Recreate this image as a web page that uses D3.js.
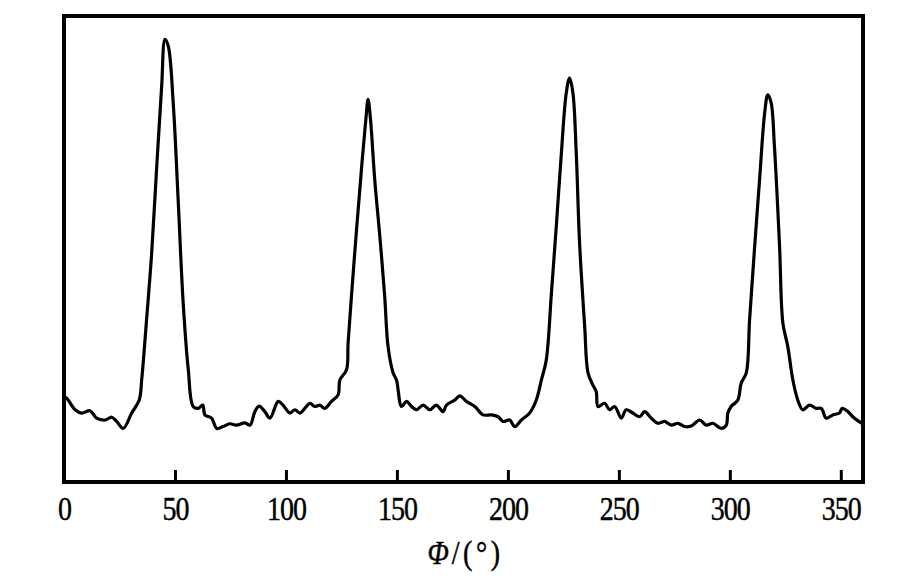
<!DOCTYPE html>
<html>
<head>
<meta charset="utf-8">
<script src="https://cdn.jsdelivr.net/npm/d3@7"></script>
<style>
  html, body { margin: 0; padding: 0; background: #fff; }
  svg { display: block; }
</style>
</head>
<body>
<svg id="chart" width="903" height="579"></svg>
<script>
// azimuth angle Φ (degrees)
const phi = [0, 1.2, 5.0, 8.0, 11.7, 14.7, 18.5, 21.5, 23.7, 26.7, 30.5, 33.9, 35.0, 37.2, 39.5, 41.7, 44.0, 45.5, 47.0, 49.2, 51.5, 53.7, 56.0, 58.2, 60.5, 62.5, 63.5, 66.5, 68.8, 71.7, 74.7, 77.8, 81.5, 83.8, 86.0, 87.9, 90.5, 92.8, 96.5, 98.7, 101.8, 104.0, 106.3, 108.5, 110.8, 113.0, 115.3, 117.5, 120.5, 123.5, 124.3, 127.3, 128.0, 129.5, 131.8, 134.0, 136.0, 137.0, 138.1, 140.0, 142.3, 144.5, 146.0, 148.3, 149.8, 152.1, 154.3, 156.6, 158.8, 161.8, 164.8, 167.8, 170.8, 172.3, 176.1, 178.3, 181.3, 185.1, 188.8, 192.6, 195.6, 197.8, 200.8, 203.1, 206.1, 209.8, 212.8, 215.1, 217.3, 219.6, 221.8, 224.1, 226.3, 227.8, 229.3, 230.8, 232.3, 234.6, 236.1, 238.3, 239.8, 240.6, 243.6, 245.8, 248.1, 251.1, 253.3, 256.3, 259.4, 261.6, 264.6, 267.6, 270.6, 273.6, 276.6, 279.6, 282.6, 286.4, 289.4, 292.4, 296.1, 298.4, 299.1, 300.6, 303.6, 305.1, 307.4, 308.9, 311.2, 313.4, 315.7, 317.1, 318.6, 320.1, 322.4, 323.9, 326.1, 328.4, 330.6, 332.9, 335.9, 338.9, 341.2, 343.4, 346.4, 349.4, 350.6, 353.2, 355.4, 358.1, 359.5];
// intensity (arbitrary units)
const intensity = [18.3, 18.0, 15.5, 14.8, 15.3, 13.7, 13.3, 13.9, 13.0, 11.5, 14.8, 17.6, 21.9, 34.8, 49.1, 67.0, 84.9, 95.0, 93.5, 81.4, 59.9, 38.4, 24.1, 16.2, 15.8, 16.5, 14.4, 13.7, 11.5, 11.9, 12.5, 12.2, 12.7, 12.2, 15.1, 16.3, 15.1, 13.7, 17.3, 16.5, 14.8, 15.5, 14.8, 15.8, 16.9, 16.2, 16.5, 15.8, 17.3, 18.7, 21.9, 24.1, 29.8, 39.8, 54.1, 67.0, 77.8, 82.1, 77.8, 64.9, 52.7, 39.8, 29.1, 23.4, 21.9, 16.2, 17.3, 16.2, 15.5, 16.5, 15.5, 16.5, 15.1, 16.5, 17.6, 18.5, 17.3, 16.2, 14.4, 14.4, 14.0, 13.0, 13.3, 11.9, 13.3, 14.8, 17.6, 21.9, 26.2, 40.5, 54.8, 70.6, 83.5, 86.7, 83.5, 70.6, 51.3, 33.4, 23.4, 20.8, 19.4, 16.2, 16.9, 15.5, 16.2, 13.7, 15.5, 14.8, 14.0, 15.1, 13.7, 12.6, 13.0, 12.2, 12.6, 11.9, 12.0, 13.3, 12.2, 12.6, 11.5, 12.2, 14.8, 16.2, 17.6, 21.2, 23.4, 34.8, 50.6, 64.9, 79.2, 83.1, 81.4, 72.0, 50.6, 34.1, 29.1, 21.9, 17.6, 15.5, 16.5, 15.8, 15.8, 13.7, 14.4, 14.8, 15.8, 15.1, 14.0, 13.0, 12.6];
const xTicks = [0, 50, 100, 150, 200, 250, 300, 350];
const xTitleSymbol = "Φ";
const xTitleRest = "/(°)";

const svg = d3.select("#chart");
const mLeft = 64, mRight = 863, mTop = 16, mBottom = 482;

const x = d3.scaleLinear().domain([0, 360]).range([mLeft, mRight]);
const y = d3.scaleLinear().domain([0, 100]).range([mBottom, mTop]);

const data = phi.map((p, i) => ({ p, v: intensity[i] }));

// curve
svg.append("path")
  .datum(data)
  .attr("fill", "none")
  .attr("stroke", "#000")
  .attr("stroke-width", 3.2)
  .attr("stroke-linejoin", "round")
  .attr("stroke-linecap", "round")
  .attr("d", d3.line().x(d => x(d.p)).y(d => y(d.v)).curve(d3.curveCatmullRom.alpha(0.5)));

// x axis (ticks inward)
const sy = 1.18;
const gx = svg.append("g")
  .attr("transform", `translate(0,${mBottom})`)
  .call(d3.axisBottom(x).tickValues(xTicks).tickSizeInner(-12).tickSizeOuter(0).tickFormat(d3.format("d")));
gx.select(".domain").remove();
gx.selectAll(".tick line").attr("stroke", "#000").attr("stroke-width", 3);
gx.selectAll(".tick text")
  .attr("fill", "#000")
  .attr("font-family", "'Liberation Serif', 'Times New Roman', serif")
  .attr("font-size", 28)
  .attr("letter-spacing", -1)
  .attr("stroke", "#000")
  .attr("stroke-width", 0.4)
  .attr("dy", null)
  .attr("y", 38 / sy)
  .attr("transform", `scale(1,${sy})`);

// frame
svg.append("rect")
  .attr("x", mLeft).attr("y", mTop)
  .attr("width", mRight - mLeft).attr("height", mBottom - mTop)
  .attr("fill", "none").attr("stroke", "#000").attr("stroke-width", 4);

// x title
const title = svg.append("text")
  .attr("x", (mLeft + mRight) / 2 + 2)
  .attr("y", 564 / sy)
  .attr("transform", `scale(1,${sy})`)
  .attr("text-anchor", "middle")
  .attr("font-family", "'Liberation Serif', 'Times New Roman', serif")
  .attr("font-size", 28)
  .attr("stroke", "#000")
  .attr("stroke-width", 0.4)
  .attr("fill", "#000");
title.append("tspan").attr("font-style", "italic").attr("letter-spacing", 3).text(xTitleSymbol);
title.append("tspan").attr("letter-spacing", 3.5).text(xTitleRest);
</script>
</body>
</html>
